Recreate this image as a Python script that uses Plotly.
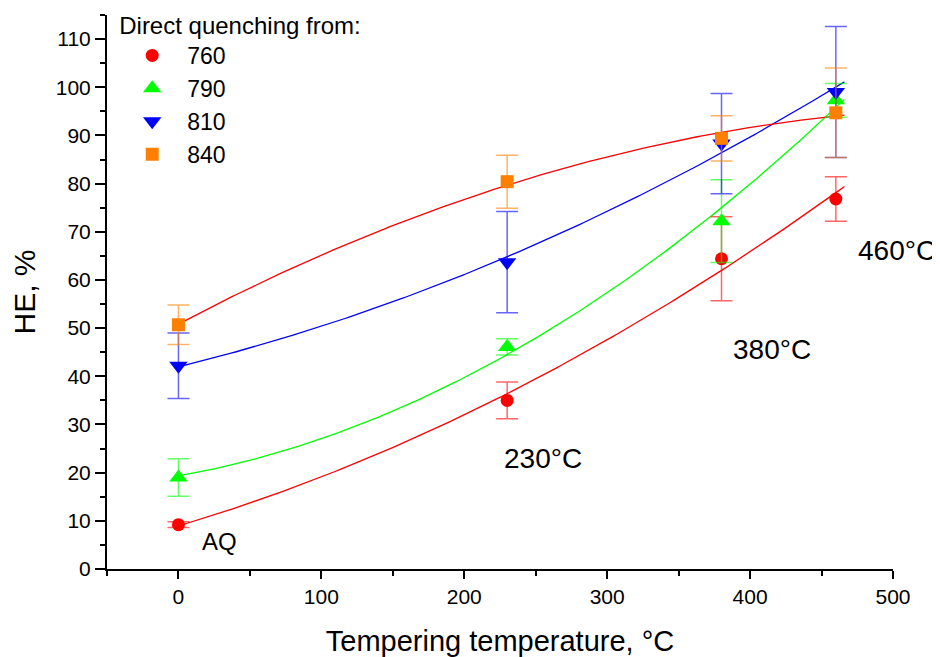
import numpy as np
import plotly.graph_objects as go

# ---- data ----
temps = [0, 230, 380, 460]
series_names = ["760", "790", "810", "840"]
he_760 = [9.2, 35.0, 64.4, 76.8]
err_760 = [0.6, 3.8, 8.7, 4.6]
he_790 = [19.0, 46.1, 72.2, 97.3]
err_790 = [3.9, 1.7, 8.6, 3.5]
he_810 = [42.2, 63.7, 88.3, 99.0]
err_810 = [6.8, 10.5, 10.4, 13.6]
he_840 = [50.7, 80.4, 89.4, 94.7]
err_840 = [4.1, 5.5, 4.7, 9.3]
fit_end = 466

x_ticks = [0, 100, 200, 300, 400, 500]
y_ticks = [0, 10, 20, 30, 40, 50, 60, 70, 80, 90, 100, 110]

# ---- style ----
marker_colors = ["#ff0000", "#00ff00", "#0000ff", "#ff8000"]
err_colors = ["rgba(255,0,0,0.6)", "rgba(0,255,0,0.6)", "rgba(0,0,255,0.6)", "rgba(255,128,0,0.6)"]
fit_colors = ["#ff0000", "#00ff00", "#0000ff", "#ff0000"]
symbols = ["circle", "triangle-up", "triangle-down", "square"]
sizes = [13, 16, 16, 13]
FONT = "Liberation Sans, Arial, Helvetica, sans-serif"

values = [he_760, he_790, he_810, he_840]
errors = [err_760, err_790, err_810, err_840]

fig = go.Figure()

xf = np.linspace(0, fit_end, 200)
for i, name in enumerate(series_names):
    coef = np.polyfit(temps, values[i], 2)
    fig.add_trace(go.Scatter(
        x=xf, y=np.polyval(coef, xf), mode="lines",
        line=dict(color=fit_colors[i], width=1.3),
        showlegend=False, hoverinfo="skip"))

for i, name in enumerate(series_names):
    fig.add_trace(go.Scatter(
        x=temps, y=values[i], mode="markers", name=name,
        legendgroup=name,
        marker=dict(symbol=symbols[i], size=sizes[i], color=marker_colors[i], line=dict(width=0)),
        error_y=dict(type="data", array=errors[i], visible=True,
                     color=err_colors[i], thickness=1.5, width=11),
        cliponaxis=False))

annots = [
    ("AQ", 28.7, 5.8, 24),
    ("230°C", 255, 23.0, 28),
    ("380°C", 415, 45.6, 28),
]
for text, ax_, ay_, fs in annots:
    fig.add_annotation(x=ax_, y=ay_, xref="x", yref="y", text=text, showarrow=False,
                       xanchor="center", yanchor="middle",
                       font=dict(size=fs, color="#000000", family=FONT))
fig.add_annotation(x=1.005, y=0.575, xref="paper", yref="paper", text="460°C", showarrow=False,
                   xanchor="center", yanchor="middle",
                   font=dict(size=28, color="#000000", family=FONT))

fig.update_layout(
    width=932, height=649,
    margin=dict(l=99, r=47, t=7, b=88, autoexpand=False),
    paper_bgcolor="white", plot_bgcolor="white",
    font=dict(family=FONT, color="#000000"),
    legend=dict(
        title=dict(text="Direct quenching from:", font=dict(size=24)),
        font=dict(size=23),
        x=0.013, y=1.022, xanchor="left", yanchor="top",
        bgcolor="rgba(0,0,0,0)", tracegroupgap=0,
        itemwidth=60,
    ),
    xaxis=dict(
        range=[-50, 500], tickvals=x_ticks, ticktext=[str(v) for v in x_ticks],
        showgrid=False, zeroline=False, showline=True, linecolor="black", linewidth=2,
        ticks="outside", ticklen=8, tickwidth=2, tickcolor="black",
        tickfont=dict(size=21),
        minor=dict(tickvals=[-50, 50, 150, 250, 350, 450], ticks="outside", ticklen=5,
                   tickwidth=2, tickcolor="black", showgrid=False),
        title=dict(text="Tempering temperature, °C", font=dict(size=29), standoff=23),
    ),
    yaxis=dict(
        range=[0, 115], tickvals=y_ticks, ticktext=[str(v) for v in y_ticks],
        showgrid=False, zeroline=False, showline=True, linecolor="black", linewidth=2,
        ticks="outside", ticklen=10, tickwidth=2, tickcolor="black",
        tickfont=dict(size=21),
        minor=dict(tickvals=[5, 15, 25, 35, 45, 55, 65, 75, 85, 95, 105, 115], ticks="outside",
                   ticklen=5, tickwidth=2, tickcolor="black", showgrid=False),
        title=dict(text="HE, %", font=dict(size=30), standoff=12),
    ),
)

fig.write_html("out.html")
